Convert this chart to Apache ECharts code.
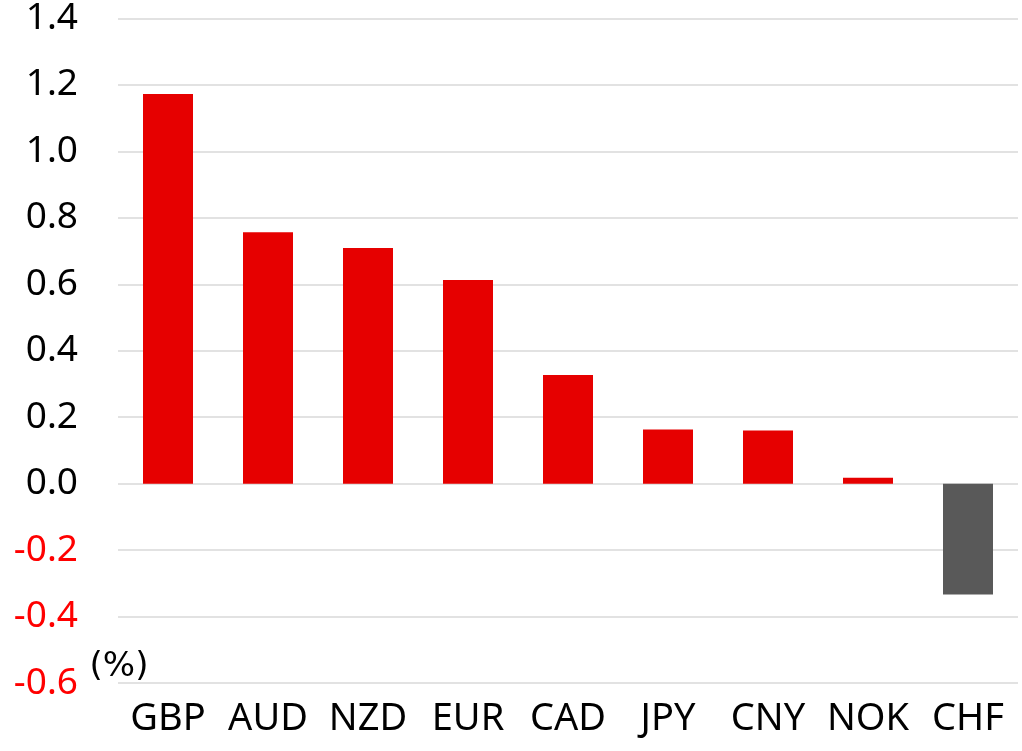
<!DOCTYPE html>
<html><head><meta charset="utf-8">
<script src="https://cdn.jsdelivr.net/npm/echarts@6/dist/echarts.min.js"></script>
<style>html,body{margin:0;padding:0;background:#fff}#c{width:1022px;height:751px}</style>
</head><body><div id="c"></div>
<script>
const categories = ['GBP','AUD','NZD','EUR','CAD','JPY','CNY','NOK','CHF'];
const values = [1.173, 0.757, 0.709, 0.613, 0.327, 0.163, 0.160, 0.018, -0.334];
const yTicks = [-0.6, 1.4, 0.2];
const unitLabel = '(%)';
const FONT = '"Noto Sans", sans-serif';
const chart = echarts.init(document.getElementById('c'));
chart.setOption({
  animation: false,
  grid: {left: 118, right: 4, top: 16, bottom: 68, containLabel: false},
  xAxis: {
    type: 'category', data: categories,
    axisLine: {show: false}, axisTick: {show: false},
    axisLabel: {color: '#000', fontSize: 38, fontFamily: FONT, margin: 17, interval: 0}
  },
  yAxis: {
    type: 'value', min: yTicks[0], max: yTicks[1], interval: yTicks[2],
    name: unitLabel, nameLocation: 'start', nameGap: -16,
    nameTextStyle: {fontSize: 34, fontFamily: '"DejaVu Sans", sans-serif', color: '#000', align: 'center', verticalAlign: 'middle', padding: [0, 0, 0, 2]},
    axisLine: {show: false}, axisTick: {show: false},
    splitLine: {lineStyle: {color: '#d9d9d9', width: 1.5}},
    axisLabel: {
      fontSize: 37, fontFamily: FONT, margin: 40,
      formatter: v => v.toFixed(1),
      color: v => (parseFloat(v) < 0 ? '#ff0000' : '#000')
    }
  },
  series: [{
    type: 'bar', barWidth: 50,
    data: values.map(v => ({value: v, itemStyle: {color: v < 0 ? '#595959' : '#e60000'}}))
  }]
});
</script></body></html>
